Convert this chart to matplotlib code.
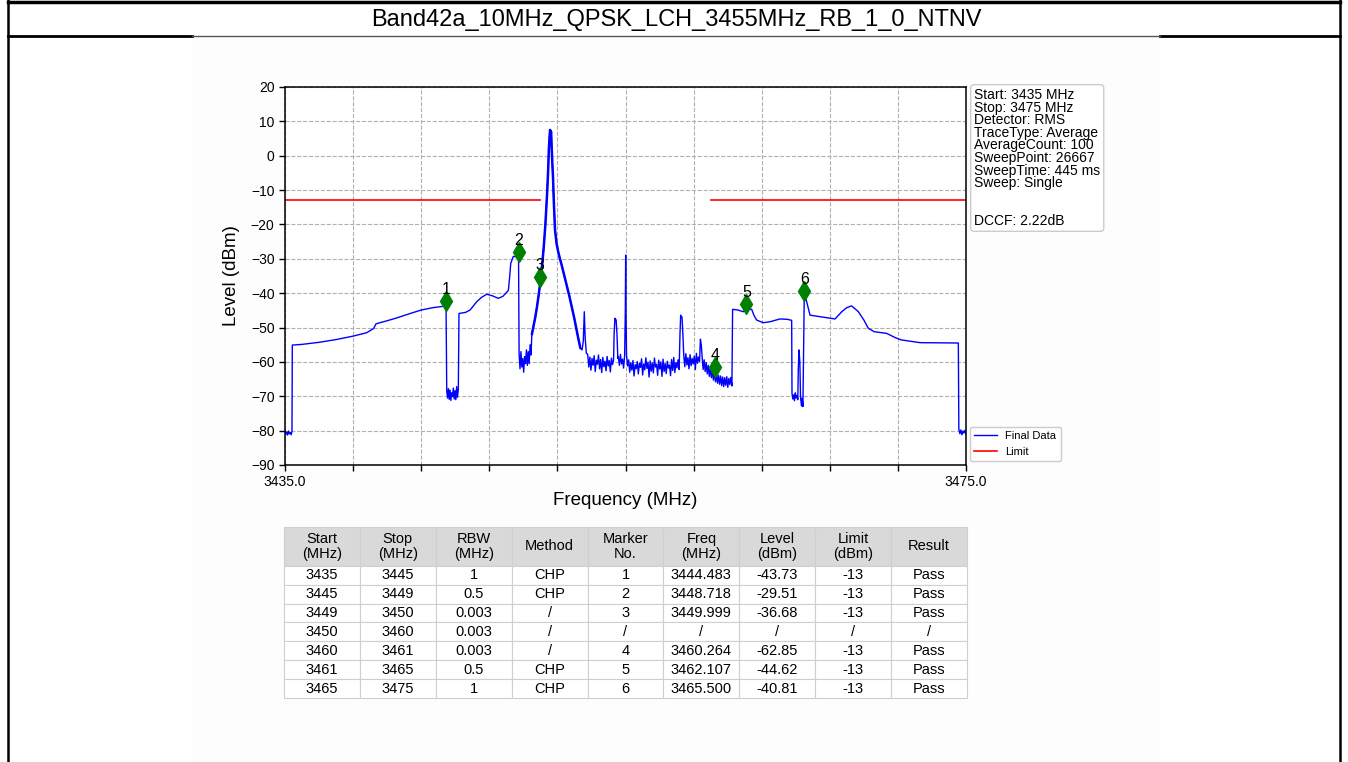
"""Spectrum emission mask plot for Band42a, 10 MHz QPSK, low channel (3455 MHz)."""

import matplotlib

matplotlib.use("Agg")
import matplotlib.pyplot as plt
import numpy as np
from matplotlib import transforms
from matplotlib.lines import Line2D
from matplotlib.patches import Rectangle

plt.rcParams["font.family"] = ["Liberation Sans", "DejaVu Sans"]
plt.rcParams["axes.unicode_minus"] = True

TITLE = "Band42a_10MHz_QPSK_LCH_3455MHz_RB_1_0_NTNV"
F_START, F_STOP = 3435.0, 3475.0

# ---- measured trace, read piece by piece (MHz, dBm) ----
# noisy stretches: (start, stop, levels) spread evenly over [start, stop]
floor_lo_left = (3435.0, 3435.41, [-80.2, -81.0, -80.4, -81.3, -80.1, -80.9, -80.5, -81.2, -80.3])
shoulder_l1_f = [3435.43, 3436.0, 3437.0, 3438.0, 3439.0, 3439.8, 3440.2, 3440.35, 3440.8,
                 3441.5, 3442.3, 3443.0, 3443.7, 3444.46]
shoulder_l1_lvl = [-55.1, -54.9, -54.3, -53.5, -52.5, -51.5, -50.3, -48.9, -48.3,
                   -47.3, -46.0, -44.9, -44.2, -43.73]
notch_l1 = (3444.50, 3445.18, [-68.5, -70.5, -67.8, -70.9, -68.2, -71.2, -69.0, -70.1, -67.6,
                               -70.8, -68.4, -71.0, -67.2, -70.3, -68.0])
shoulder_l2_f = [3445.22, 3445.6, 3445.87, 3446.26, 3446.55, 3446.85, 3447.2, 3447.53, 3447.8,
                 3448.12, 3448.2, 3448.26, 3448.41, 3448.718]
shoulder_l2_lvl = [-45.9, -45.6, -44.9, -42.5, -41.2, -40.3, -40.8, -41.5, -40.9,
                   -39.2, -35.0, -31.3, -29.3, -29.51]
floor_pre_peak = (3448.75, 3449.45, [-57.5, -62.0, -57.0, -61.5, -59.0, -63.0, -58.5, -60.5,
                                     -56.5, -61.0, -57.0, -60.5, -55.0, -58.0])
# carrier flanks: dense sweep points, drawn heavier
carrier_f = [3449.50, 3449.60, 3449.70, 3449.80, 3449.90, 3449.999, 3450.10, 3450.20, 3450.30,
             3450.40, 3450.45, 3450.50, 3450.54, 3450.57, 3450.60, 3450.63, 3450.66, 3450.70,
             3450.74, 3450.78, 3450.82, 3450.86, 3450.95, 3451.05, 3451.15, 3451.25, 3451.40,
             3451.55, 3451.70, 3451.84, 3452.00, 3452.10, 3452.20, 3452.35]
carrier_lvl = [-52.0, -49.5, -47.0, -44.0, -40.5, -36.68, -32.0, -26.5, -19.5,
               -10.5, -5.0, 2.0, 5.5, 7.5, 6.5, 7.0, 3.0, -2.0,
               -6.0, -12.0, -17.0, -21.6, -25.5, -28.0, -30.0, -31.8, -34.8,
               -37.8, -40.8, -43.9, -47.5, -50.0, -52.5, -56.0]
spur_a_f = [3452.45, 3452.52, 3452.58, 3452.63, 3452.70]
spur_a_lvl = [-56.5, -54.0, -45.4, -53.0, -57.5]
floor_mid_1 = (3452.78, 3454.30, [-57.8, -61.5, -58.6, -62.4, -59.0, -61.0, -58.2, -62.8, -59.5,
                                  -60.7, -58.0, -62.0, -59.3, -63.1, -58.7, -61.4, -59.8, -62.6,
                                  -58.4, -61.2, -59.6, -62.9, -58.9, -60.8, -59.4])
spur_b_f = [3454.33, 3454.38, 3454.45, 3454.50, 3454.55]
spur_b_lvl = [-52.0, -47.3, -47.8, -52.0, -59.0]
floor_mid_2 = (3454.58, 3454.95, [-58.5, -61.0, -57.8, -60.6, -59.2, -61.8, -58.0])
spur_c_f = [3454.99, 3455.01, 3455.03]
spur_c_lvl = [-45.0, -28.9, -45.0]
floor_mid_3 = (3455.06, 3458.15, [-58.0, -61.2, -59.4, -63.0, -60.2, -62.4, -59.6, -64.1, -60.8,
                                  -62.0, -59.9, -63.5, -60.4, -61.6, -59.1, -63.8, -60.6, -62.3,
                                  -58.8, -61.9, -60.1, -64.4, -59.7, -62.7, -60.3, -63.2, -58.9,
                                  -61.5, -60.7, -63.9, -59.5, -62.1, -60.0, -64.2, -59.2, -62.8,
                                  -60.5, -63.4, -59.8, -61.8, -60.9, -64.0, -59.3, -62.5, -58.7,
                                  -63.1, -60.2, -61.7, -59.4, -62.2])
spur_d_f = [3458.20, 3458.24, 3458.32, 3458.38]
spur_d_lvl = [-52.0, -46.4, -47.0, -53.0]
floor_mid_4 = (3458.42, 3459.35, [-58.0, -61.4, -57.6, -60.9, -58.8, -62.0, -57.9, -61.1, -59.0,
                                  -60.6, -58.3, -62.2, -57.5, -60.4, -58.6, -59.8])
spur_e_f = [3459.40, 3459.45]
spur_e_lvl = [-53.4, -55.0]
floor_mid_5 = (3459.50, 3461.25, [-58.5, -62.2, -59.4, -62.8, -60.2, -63.5, -61.0, -64.2, -61.8,
                                  -64.6, -62.5, -65.3, -62.9, -65.8, -63.4, -66.2, -63.9, -66.5,
                                  -64.1, -66.9, -64.4, -67.2, -64.6, -66.8, -64.3, -67.4, -64.8,
                                  -66.6, -64.5, -67.0])
shoulder_r1_f = [3461.29, 3461.6, 3461.92, 3462.107, 3462.41, 3462.55, 3462.7, 3463.09, 3463.5,
                 3464.07, 3464.5, 3464.76]
shoulder_r1_lvl = [-44.7, -44.9, -45.4, -44.62, -44.7, -46.5, -47.8, -48.6, -48.3,
                   -47.5, -47.6, -47.9]
notch_r1 = (3464.78, 3465.12, [-69.2, -70.8, -69.6, -71.3, -69.0, -70.5, -69.8, -71.0])
spur_f_f = [3465.15, 3465.19, 3465.24, 3465.28]
spur_f_lvl = [-62.0, -56.5, -60.0, -70.0]
notch_r2 = (3465.30, 3465.42, [-71.2, -72.8, -70.6, -73.0])
shoulder_r2_f = [3465.45, 3465.50, 3465.54, 3465.84, 3466.5, 3467.31, 3467.7, 3468.0, 3468.28,
                 3468.68, 3469.0, 3469.26, 3469.6, 3470.34, 3470.83, 3471.2, 3472.3, 3474.55]
shoulder_r2_lvl = [-60.0, -40.81, -40.5, -46.4, -46.9, -47.5, -45.4, -44.2, -43.7,
                   -45.4, -47.8, -50.2, -51.2, -51.7, -52.9, -53.6, -54.4, -54.5]
floor_lo_right = (3474.58, 3475.0, [-79.6, -80.9, -79.8, -81.2, -80.1, -80.7, -79.9, -81.0])

# ---- limit line (dBm) over the two outer ranges ----
LIMIT_START = [3435.0, 3460.0]
LIMIT_STOP = [3450.0, 3475.0]
LIMIT_LEVEL = -13.0

# ---- result table ----
TABLE_HEADER = ["Start\n(MHz)", "Stop\n(MHz)", "RBW\n(MHz)", "Method", "Marker\nNo.",
                "Freq\n(MHz)", "Level\n(dBm)", "Limit\n(dBm)", "Result"]
TABLE_START = ["3435", "3445", "3449", "3450", "3460", "3461", "3465"]
TABLE_STOP = ["3445", "3449", "3450", "3460", "3461", "3465", "3475"]
TABLE_RBW = ["1", "0.5", "0.003", "0.003", "0.003", "0.5", "1"]
TABLE_METHOD = ["CHP", "CHP", "/", "/", "/", "CHP", "CHP"]
TABLE_MARKER = ["1", "2", "3", "/", "4", "5", "6"]
TABLE_FREQ = ["3444.483", "3448.718", "3449.999", "/", "3460.264", "3462.107", "3465.500"]
TABLE_LEVEL = ["-43.73", "-29.51", "-36.68", "/", "-62.85", "-44.62", "-40.81"]
TABLE_LIMIT = ["-13", "-13", "-13", "/", "-13", "-13", "-13"]
TABLE_RESULT = ["Pass", "Pass", "Pass", "/", "Pass", "Pass", "Pass"]

INFO_TEXT = ("Start: 3435 MHz\nStop: 3475 MHz\nDetector: RMS\nTraceType: Average\n"
             "AverageCount: 100\nSweepPoint: 26667\nSweepTime: 445 ms\nSweep: Single\n\n\n"
             "DCCF: 2.22dB")


def noisy(piece):
    start, stop, levels = piece
    return np.linspace(start, stop, len(levels)), np.asarray(levels, dtype=float)


def smooth(freqs, levels):
    return np.asarray(freqs, dtype=float), np.asarray(levels, dtype=float)


pieces = [
    noisy(floor_lo_left), smooth(shoulder_l1_f, shoulder_l1_lvl), noisy(notch_l1),
    smooth(shoulder_l2_f, shoulder_l2_lvl), noisy(floor_pre_peak), smooth(carrier_f, carrier_lvl),
    smooth(spur_a_f, spur_a_lvl), noisy(floor_mid_1), smooth(spur_b_f, spur_b_lvl),
    noisy(floor_mid_2), smooth(spur_c_f, spur_c_lvl), noisy(floor_mid_3),
    smooth(spur_d_f, spur_d_lvl), noisy(floor_mid_4), smooth(spur_e_f, spur_e_lvl),
    noisy(floor_mid_5), smooth(shoulder_r1_f, shoulder_r1_lvl), noisy(notch_r1),
    smooth(spur_f_f, spur_f_lvl), noisy(notch_r2), smooth(shoulder_r2_f, shoulder_r2_lvl),
    noisy(floor_lo_right),
]
trace_f = np.concatenate([p[0] for p in pieces])
trace_lvl = np.concatenate([p[1] for p in pieces])

marker_f = [float(v) for v in TABLE_FREQ if v != "/"]
marker_lvl = [float(v) for v in TABLE_LEVEL if v != "/"]
marker_no = [v for v in TABLE_MARKER if v != "/"]

W, H = 1348, 762
fig = plt.figure(figsize=(W / 100, H / 100), dpi=100)


def fx(px):
    return px / W


def fy(py):
    return 1 - py / H


# report frame: title cell on top, chart image below
fig.add_artist(Rectangle((fx(192), 0), fx(1160 - 192), fy(37), transform=fig.transFigure,
                         fc="#fdfdfd", ec="none", zorder=-5))
for xs, ys, lw, col in [
    ([8, 1340], [1.5, 1.5], 2.5, "black"),
    ([8, 8], [0, H], 1.8, "black"),
    ([1340, 1340], [0, H], 1.8, "black"),
    ([8, 192], [36, 36], 2.0, "black"),
    ([1160, 1340], [36, 36], 2.0, "black"),
    ([192, 1160], [36, 36], 1.0, "#555555"),
]:
    fig.add_artist(Line2D([fx(x) for x in xs], [fy(y) for y in ys], transform=fig.transFigure,
                          color=col, lw=lw))
fig.text(fx(676), fy(20), TITLE, ha="center", va="center", fontsize=17)

# ---- spectrum axes ----
ax = fig.add_axes([fx(285), fy(465), fx(966 - 285), (465 - 87) / H])
ax.plot(trace_f, trace_lvl, color="blue", lw=1.0, label="Final Data")
ax.plot(carrier_f, carrier_lvl, color="blue", lw=1.8, solid_capstyle="round")
for i, (a, b) in enumerate(zip(LIMIT_START, LIMIT_STOP)):
    ax.plot([a, b], [LIMIT_LEVEL, LIMIT_LEVEL], color="red", lw=1.2,
            label="Limit" if i == 0 else None)

# diamonds sit slightly above the trace point, numbered above
lift = transforms.offset_copy(ax.transData, fig=fig, x=0, y=3.6, units="points")
ax.plot(marker_f, marker_lvl, ls="none", marker="d", ms=10, color="green", transform=lift,
        zorder=5)
for no, f, lvl in zip(marker_no, marker_f, marker_lvl):
    ax.annotate(no, (f, lvl), xytext=(0, 8.5), textcoords="offset points", ha="center",
                va="baseline", fontsize=11.5, zorder=6)

ax.set_xlim(F_START, F_STOP)
ax.set_ylim(-90, 20)
xt = np.arange(F_START, F_STOP + 1, 4)
ax.set_xticks(xt)
ax.set_xticklabels([f"{v:.1f}" if v in (F_START, F_STOP) else "" for v in xt])
ax.set_yticks(np.arange(-90, 21, 10))
ax.tick_params(labelsize=10, length=4, width=1)
ax.grid(True, ls="--", color="#b0b0b0", lw=0.8)
for s in ax.spines.values():
    s.set_linewidth(1.1)
ax.set_xlabel("Frequency (MHz)", fontsize=13.5, labelpad=2)
ax.set_ylabel("Level (dBm)", fontsize=13.5, labelpad=8)

ax.legend(loc="lower left", bbox_to_anchor=(1.0, 0.0), fontsize=8, framealpha=1,
          handlelength=2.0, borderaxespad=0.35)
ax.text(1.012, 0.997, INFO_TEXT, transform=ax.transAxes, ha="left", va="top", fontsize=10,
        linespacing=0.87,
        bbox=dict(boxstyle="round,pad=0.25", fc="white", ec="#cccccc", lw=1))

# ---- result table ----
tax = fig.add_axes([fx(284), fy(698), fx(967 - 284), (698 - 527) / H])
tax.axis("off")
rows = list(zip(TABLE_START, TABLE_STOP, TABLE_RBW, TABLE_METHOD, TABLE_MARKER, TABLE_FREQ,
                TABLE_LEVEL, TABLE_LIMIT, TABLE_RESULT))
tbl = tax.table(cellText=rows, colLabels=TABLE_HEADER, cellLoc="center", bbox=[0, 0, 1, 1])
tbl.auto_set_font_size(False)
tbl.set_fontsize(10.5)
for (r, c), cell in tbl.get_celld().items():
    cell.set_edgecolor("#cfcfcf")
    cell.set_linewidth(0.8)
    cell.set_height(0.228 if r == 0 else 0.111)
    cell.get_text().set_linespacing(1.05)
    cell.set_facecolor("#d9d9d9" if r == 0 else "white")

fig.savefig("out.png", dpi=100)
